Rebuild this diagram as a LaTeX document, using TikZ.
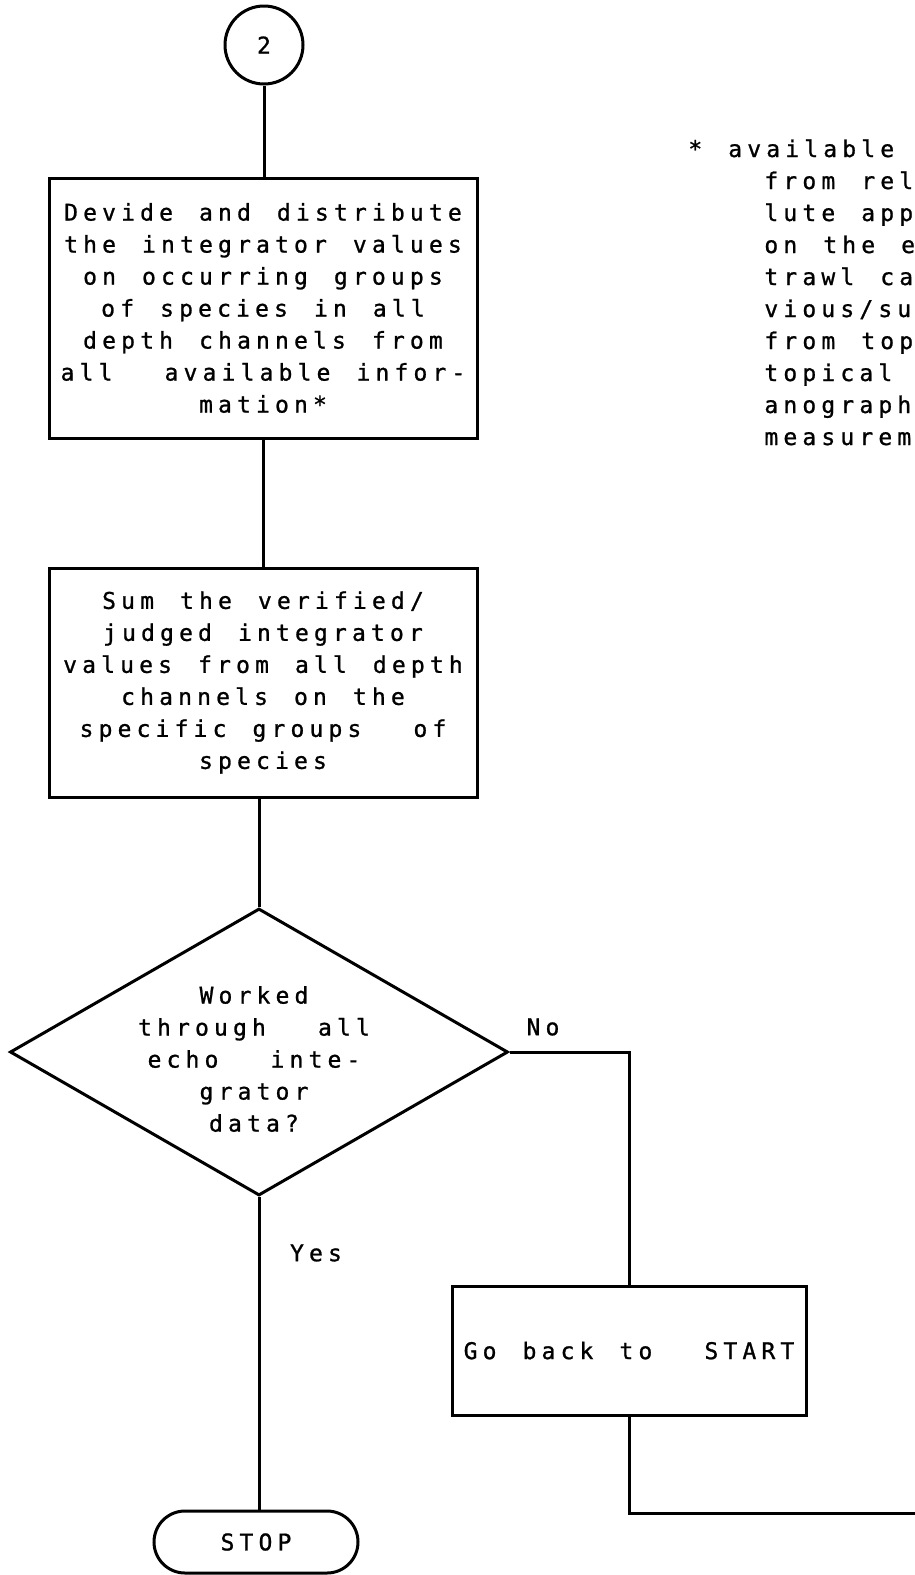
\documentclass[tikz,border=0pt]{standalone}
\usepackage{fontspec}
\newfontfamily\tw[LetterSpace=22.4,WordSpace=1.372,FakeBold=1]{DejaVu Sans Mono}
\usetikzlibrary{shapes.geometric,shapes.misc}
\newcommand\fnind{\hspace*{38pt}}
\begin{document}
\begin{tikzpicture}[x=0.5pt,y=-0.5pt,
  every node/.style={font=\tw\fontsize{11.5}{16}\selectfont},
  line/.style={line width=1.5pt},
  procbox/.style={draw, line width=1.5pt, rectangle, inner sep=0pt, align=center},
  termbox/.style={draw, line width=1.5pt, rounded rectangle, inner sep=0pt},
  decision/.style={draw, line width=1.5pt, diamond, inner sep=0pt},
  connector/.style={draw, line width=1.5pt, circle, inner sep=0pt}]
\useasboundingbox (0,0) rectangle (915,1575);

\node[connector, minimum size=39pt] (c2) at (264,45) {2};

\node[procbox, minimum width=214pt, minimum height=130pt] (b1) at (263,308)
  {Devide and distribute\\the integrator values\\on occurring groups\\of species in all\\depth channels from\\all~ available infor-\\mation*};

\node[procbox, minimum width=214pt, minimum height=114.5pt] (b2) at (263,682.5)
  {Sum the verified/\\judged integrator\\values from all depth\\channels on the\\specific groups~ of\\species};

\node[decision, minimum width=249pt, minimum height=143.5pt] (d) at (259,1052) {};
\node[align=center, inner sep=0pt] (dt) at (254,1059)
  {Worked\\through~ all\\echo~ inte-\\grator\\data?};

\node (no) at (543,1027) {No};
\node (yes) at (316,1253) {Yes};

\node[procbox, minimum width=177pt, minimum height=64.5pt] (gb) at (629,1350.5) {Go back to~ START};

\node[termbox, minimum width=102pt, minimum height=31pt] (stop) at (256,1542) {STOP};

\node[anchor=north west, align=left, inner sep=0pt] (fn) at (688,139)
  {* available\\\fnind from rel\\\fnind lute app\\\fnind on the e\\\fnind trawl ca\\\fnind vious/su\\\fnind from top\\\fnind topical\\\fnind anograph\\\fnind measurem};

\coordinate (ret) at (915,1513);

\draw[line] (c2.south) -- (c2.south |- b1.north);
\draw[line] (b1.south) -- (b2.north);
\draw[line] (d.north |- b2.south) -- (d.north);
\draw[line] (d.south) -- (d.south |- stop.north);
\draw[line] (d.east) -| (gb.north);
\draw[line] (gb.south) |- (ret);
\end{tikzpicture}
\end{document}
